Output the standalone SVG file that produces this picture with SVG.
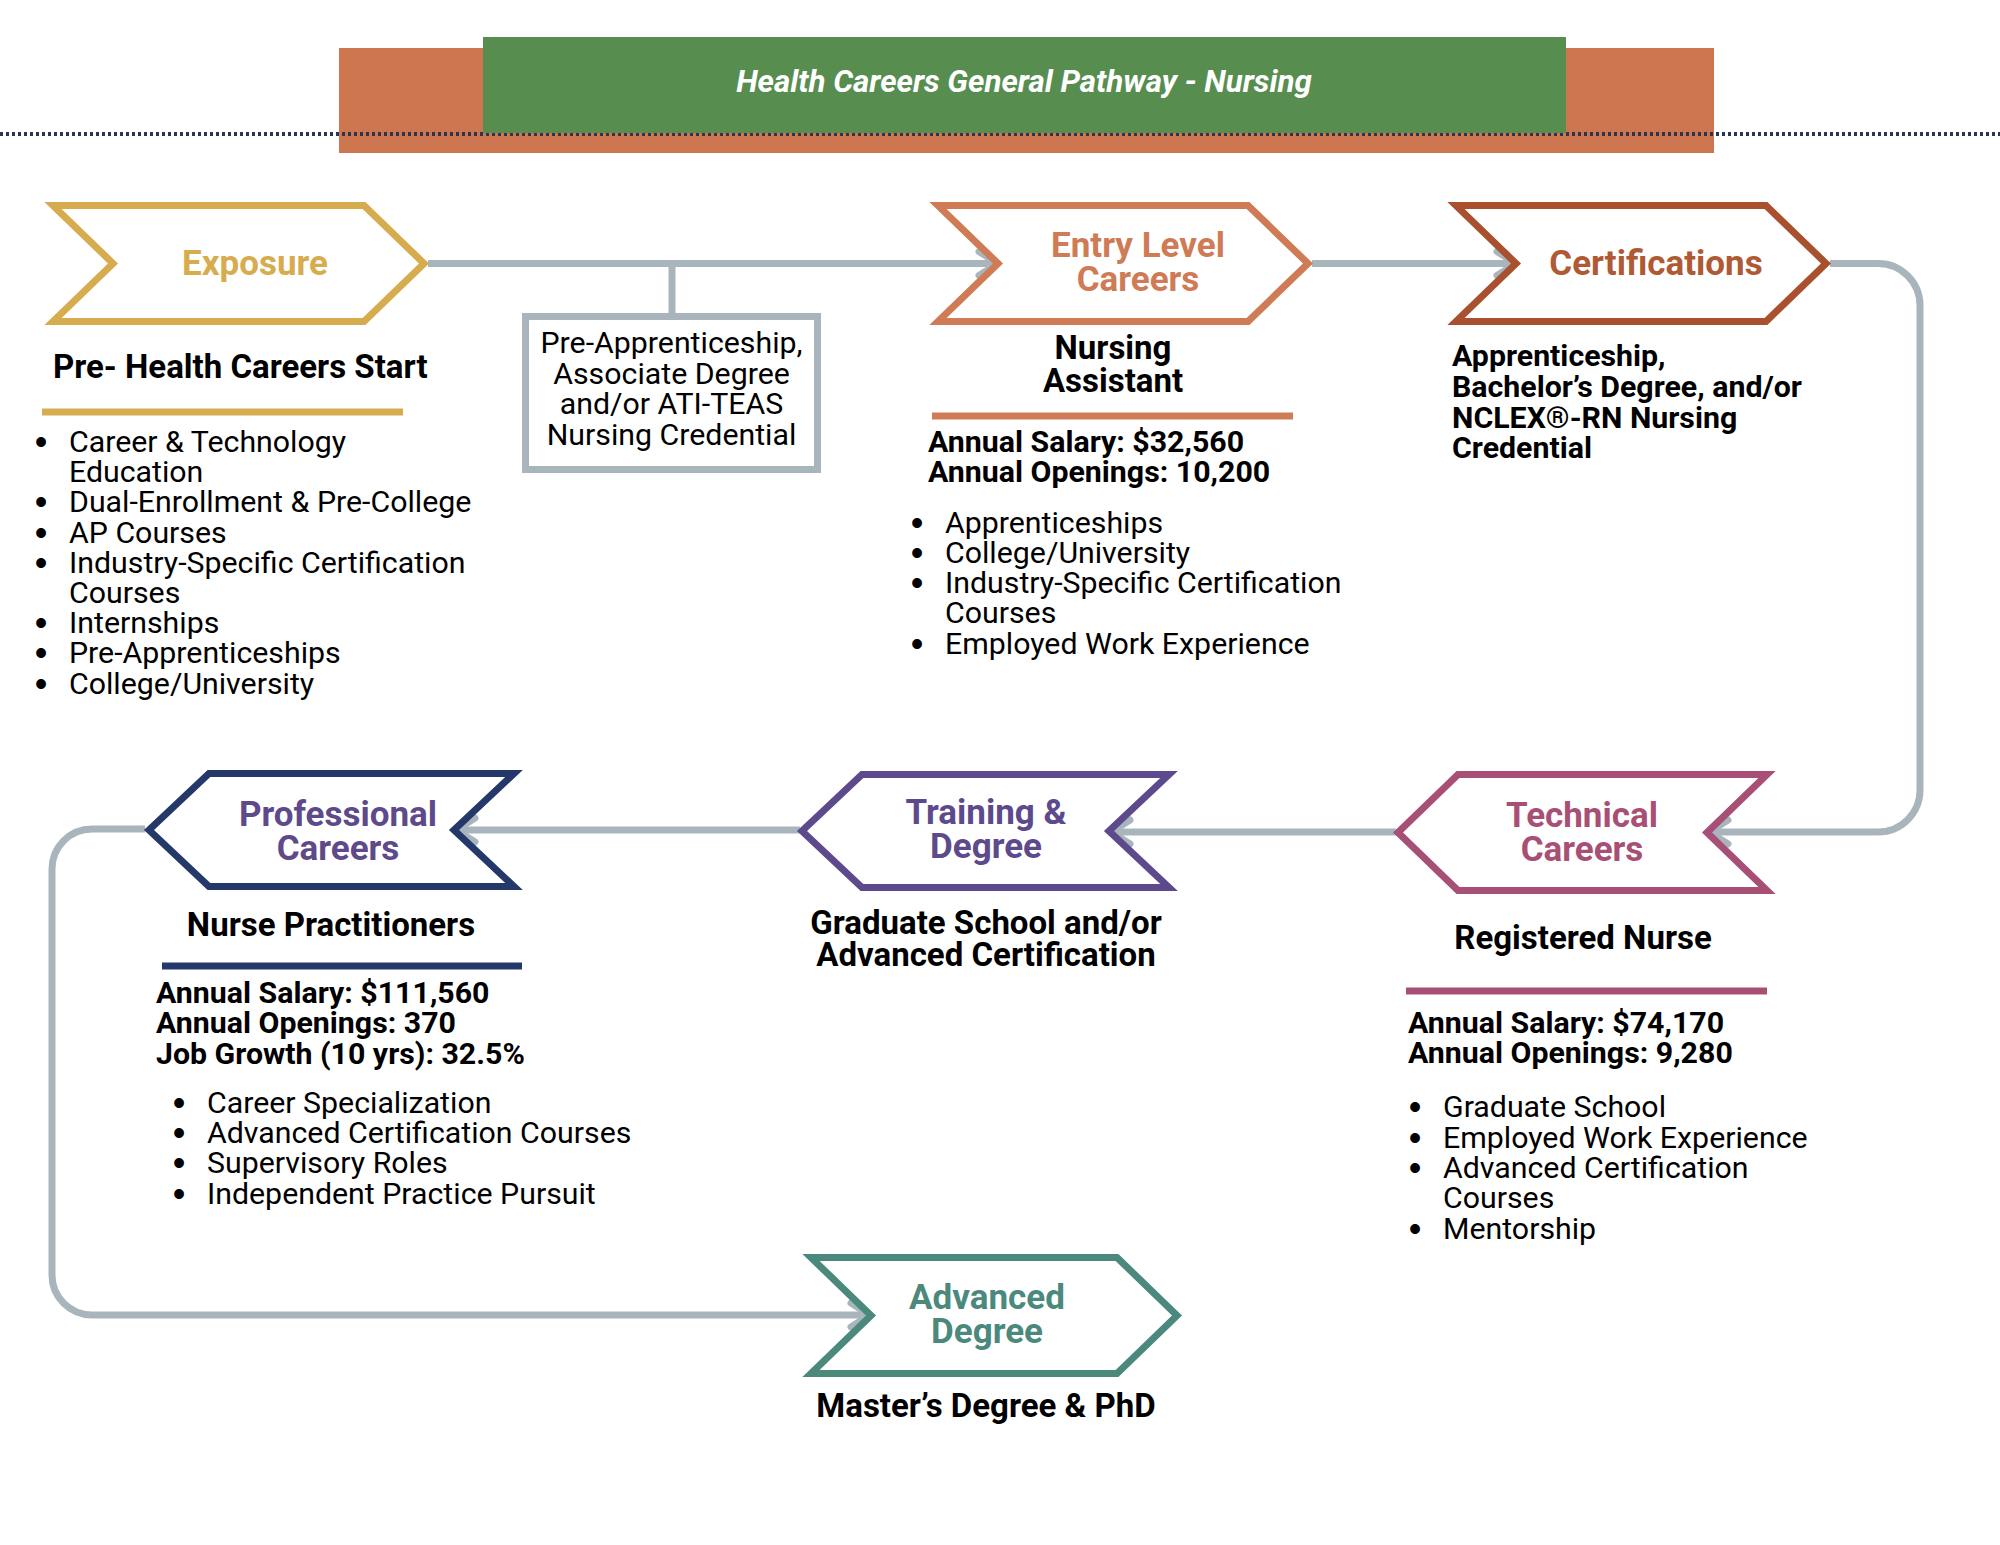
<svg xmlns="http://www.w3.org/2000/svg" width="2000" height="1545" viewBox="0 0 2000 1545">
<defs>
<style>
text{font-family:Roboto,"Liberation Sans",sans-serif;fill:#000}
.lbl{font-weight:700;font-size:35px;text-anchor:middle}
.hd{font-weight:700;font-size:33px}
.bd{font-weight:700;font-size:30.3px}
.tx{font-weight:400;font-size:30.3px}
.mid{text-anchor:middle}
.bl{font-family:"Liberation Sans",Arial,sans-serif;font-size:36px;text-anchor:middle}
.chev{fill:#fff;stroke-width:7;stroke-linejoin:miter}
.rule{stroke-width:7;fill:none}
.conn{fill:none;stroke:#a9b5bd;stroke-width:7}
</style>
<marker id="arr" markerUnits="userSpaceOnUse" markerWidth="40" markerHeight="40" viewBox="-30 -20 40 40" refX="0" refY="0" orient="auto" overflow="visible">
<path d="M-19,-12 L0,0 L-19,12" fill="none" stroke="#a9b5bd" stroke-width="7" stroke-linecap="round" stroke-linejoin="round"/>
</marker>
</defs>
<rect width="2000" height="1545" fill="#fff"/>

<g id="header">
<rect x="339" y="48" width="1375" height="105" fill="#cd7650"/>
<line x1="0" y1="134" x2="2000" y2="134" stroke="#2a3550" stroke-width="4" stroke-dasharray="3 3"/>
<rect x="483" y="37" width="1083" height="96" fill="#578e50"/>
<text x="1024" y="92" class="mid" style="font-weight:700;font-style:italic;font-size:31.3px;fill:#fff">Health Careers General Pathway - Nursing</text>
</g>

<g id="connectors">
<path class="conn" d="M428,263.5 H998" marker-end="url(#arr)"/>
<path class="conn" d="M672,263.5 V313"/>
<path class="conn" d="M1312,263.5 H1516" marker-end="url(#arr)"/>
<path class="conn" d="M1830,263.5 H1878 A42,42 0 0 1 1920,305.5 V790 A42,42 0 0 1 1878,832 H1709" marker-end="url(#arr)"/>
<path class="conn" d="M1396,832 H1111" marker-end="url(#arr)"/>
<path class="conn" d="M800,830 H456" marker-end="url(#arr)"/>
<path class="conn" d="M145,829 H92 A40,40 0 0 0 52,869 V1275 A40,40 0 0 0 92,1315 H870" marker-end="url(#arr)"/>
</g>

<g id="exposure">
<polygon class="chev" stroke="#d6ac4e" points="53,205.5 364,205.5 424,263.5 364,321.5 53,321.5 113,263.5"/>
<text x="255" y="275" class="lbl" style="fill:#d6ac4e">Exposure</text>
<text x="53" y="378" class="hd">Pre- Health Careers Start</text>
<line class="rule" x1="42" y1="412" x2="403" y2="412" stroke="#d6ac4e"/>
<text x="41" y="454" class="bl">•</text><text x="69" y="452" class="tx">Career &amp; Technology</text>
<text x="69" y="482" class="tx">Education</text>
<text x="41" y="514" class="bl">•</text><text x="69" y="512" class="tx">Dual-Enrollment &amp; Pre-College</text>
<text x="41" y="545" class="bl">•</text><text x="69" y="543" class="tx">AP Courses</text>
<text x="41" y="575" class="bl">•</text><text x="69" y="573" class="tx">Industry-Specific Certification</text>
<text x="69" y="603" class="tx">Courses</text>
<text x="41" y="635" class="bl">•</text><text x="69" y="633" class="tx">Internships</text>
<text x="41" y="665" class="bl">•</text><text x="69" y="663" class="tx">Pre-Apprenticeships</text>
<text x="41" y="696" class="bl">•</text><text x="69" y="694" class="tx">College/University</text>
</g>

<g id="pre-apprenticeship">
<rect x="525.5" y="316.5" width="292" height="153" fill="#fff" stroke="#a9b5bd" stroke-width="7"/>
<text x="671.5" y="353" class="tx mid">Pre-Apprenticeship,</text>
<text x="671.5" y="384" class="tx mid">Associate Degree</text>
<text x="671.5" y="414" class="tx mid">and/or ATI-TEAS</text>
<text x="671.5" y="445" class="tx mid">Nursing Credential</text>
</g>

<g id="entry-level">
<polygon class="chev" stroke="#cf7b55" points="938,205.5 1248,205.5 1308,263.5 1248,321.5 938,321.5 998,263.5"/>
<text x="1138" y="257" class="lbl" style="fill:#cf7b55">Entry Level</text>
<text x="1138" y="291" class="lbl" style="fill:#cf7b55">Careers</text>
<text x="1113" y="359" class="hd mid">Nursing</text>
<text x="1113" y="392" class="hd mid">Assistant</text>
<line class="rule" x1="932" y1="416" x2="1293" y2="416" stroke="#cf7b55"/>
<text x="928" y="452" class="bd">Annual Salary: $32,560</text>
<text x="928" y="482" class="bd">Annual Openings: 10,200</text>
<text x="917" y="535" class="bl">•</text><text x="945" y="533" class="tx">Apprenticeships</text>
<text x="917" y="565" class="bl">•</text><text x="945" y="563" class="tx">College/University</text>
<text x="917" y="595" class="bl">•</text><text x="945" y="593" class="tx">Industry-Specific Certification</text>
<text x="945" y="623" class="tx">Courses</text>
<text x="917" y="656" class="bl">•</text><text x="945" y="654" class="tx">Employed Work Experience</text>
</g>

<g id="certifications">
<polygon class="chev" stroke="#a9502f" points="1456,205.5 1766,205.5 1826,263.5 1766,321.5 1456,321.5 1516,263.5"/>
<text x="1656" y="275" class="lbl" style="fill:#b05a35">Certifications</text>
<text x="1452" y="366" class="bd">Apprenticeship,</text>
<text x="1452" y="397" class="bd">Bachelor’s Degree, and/or</text>
<text x="1452" y="428" class="bd">NCLEX®-RN Nursing</text>
<text x="1452" y="458" class="bd">Credential</text>
</g>

<g id="technical-careers">
<polygon class="chev" stroke="#a84f75" points="1458,774.5 1767,774.5 1707,832.5 1767,890.5 1458,890.5 1398,832.5"/>
<text x="1582" y="827" class="lbl" style="fill:#a84f75">Technical</text>
<text x="1582" y="861" class="lbl" style="fill:#a84f75">Careers</text>
<text x="1583" y="949" class="hd mid">Registered Nurse</text>
<line class="rule" x1="1406" y1="991" x2="1767" y2="991" stroke="#a84f75"/>
<text x="1408" y="1033" class="bd">Annual Salary: $74,170</text>
<text x="1408" y="1063" class="bd">Annual Openings: 9,280</text>
<text x="1415" y="1119" class="bl">•</text><text x="1443" y="1117" class="tx">Graduate School</text>
<text x="1415" y="1150" class="bl">•</text><text x="1443" y="1148" class="tx">Employed Work Experience</text>
<text x="1415" y="1180" class="bl">•</text><text x="1443" y="1178" class="tx">Advanced Certification</text>
<text x="1443" y="1208" class="tx">Courses</text>
<text x="1415" y="1241" class="bl">•</text><text x="1443" y="1239" class="tx">Mentorship</text>
</g>

<g id="training-degree">
<polygon class="chev" stroke="#5d4a8d" points="862,774.5 1169,774.5 1109,831 1169,887.5 862,887.5 802,831"/>
<text x="986" y="824" class="lbl" style="fill:#5d4a8d">Training &amp;</text>
<text x="986" y="858" class="lbl" style="fill:#5d4a8d">Degree</text>
<text x="986" y="934" class="hd mid">Graduate School and/or</text>
<text x="986" y="966" class="hd mid">Advanced Certification</text>
</g>

<g id="professional-careers">
<polygon class="chev" stroke="#25386a" points="209,773.5 514,773.5 454,830 514,886.5 209,886.5 149,830"/>
<text x="338" y="826" class="lbl" style="fill:#5e4a8b">Professional</text>
<text x="338" y="860" class="lbl" style="fill:#5e4a8b">Careers</text>
<text x="331" y="936" class="hd mid">Nurse Practitioners</text>
<line class="rule" x1="162" y1="966" x2="522" y2="966" stroke="#25386a"/>
<text x="156" y="1003" class="bd">Annual Salary: $111,560</text>
<text x="156" y="1033" class="bd">Annual Openings: 370</text>
<text x="156" y="1064" class="bd">Job Growth (10 yrs): 32.5%</text>
<text x="179" y="1115" class="bl">•</text><text x="207" y="1113" class="tx">Career Specialization</text>
<text x="179" y="1145" class="bl">•</text><text x="207" y="1143" class="tx">Advanced Certification Courses</text>
<text x="179" y="1175" class="bl">•</text><text x="207" y="1173" class="tx">Supervisory Roles</text>
<text x="179" y="1206" class="bl">•</text><text x="207" y="1204" class="tx">Independent Practice Pursuit</text>
</g>

<g id="advanced-degree">
<polygon class="chev" stroke="#4b897d" points="811,1257.5 1117,1257.5 1177,1315.5 1117,1373.5 811,1373.5 871,1315.5"/>
<text x="987" y="1309" class="lbl" style="fill:#4b897d">Advanced</text>
<text x="987" y="1343" class="lbl" style="fill:#4b897d">Degree</text>
<text x="986" y="1417" class="hd mid">Master’s Degree &amp; PhD</text>
</g>
</svg>
